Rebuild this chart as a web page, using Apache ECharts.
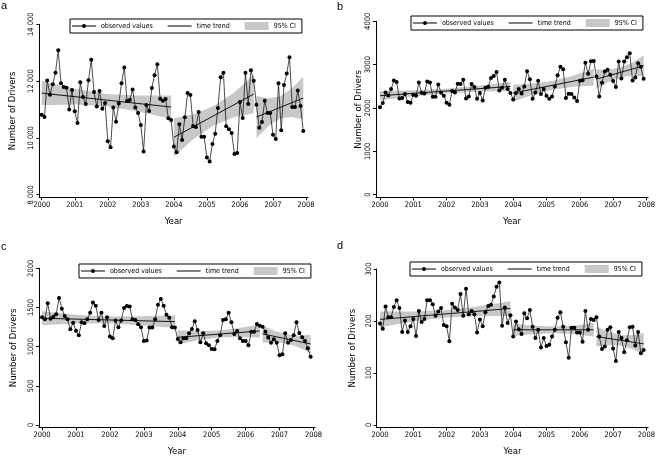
<!DOCTYPE html>
<html><head><meta charset="utf-8">
<script src="https://cdn.jsdelivr.net/npm/echarts@6/dist/echarts.min.js"></script>
<style>html,body{margin:0;padding:0;background:#fff}#c{width:658px;height:460px}</style>
</head><body><div id="c"></div>
<script>
const years = [2000, 2001, 2002, 2003, 2004, 2005, 2006, 2007];
const xTicks = [2000, 2001, 2002, 2003, 2004, 2005, 2006, 2007, 2008];

const obsA = [
  10818, 10736, 12023, 11520, 11894, 12292, 13087, 11929, 11789, 11765, 11005, 11683,
  10935, 10525, 11964, 11437, 11192, 12034, 12748, 11613, 11110, 11648, 11028, 11227,
  9882, 9671, 11075, 10572, 11215, 11929, 12479, 11297, 11332, 11707, 11075, 10876,
  10455, 9519, 11157, 10947, 11754, 12210, 12596, 11379, 11309, 11368, 10689, 10630,
  9694, 9495, 10478, 9928, 10724, 11578, 11508, 10420, 10385, 10911, 10045, 10045,
  9308, 9168, 9788, 10151, 11052, 12140, 12292, 10408, 10303, 10174, 9437, 9472,
  11262, 10701, 12292, 11192, 12386, 12011, 11169, 10361, 10560, 11309, 10876, 10876,
  10116, 9964, 11929, 10268, 11859, 12268, 12842, 11087, 11087, 11672, 11122, 10244
];
const obsB = [
  2015, 2114, 2359, 2290, 2436, 2635, 2597, 2221, 2229, 2321, 2137, 2122,
  2306, 2283, 2589, 2352, 2336, 2612, 2589, 2260, 2260, 2543, 2352, 2283,
  2122, 2076, 2390, 2359, 2558, 2551, 2650, 2221, 2267, 2551, 2482, 2214,
  2344, 2175, 2466, 2490, 2690, 2740, 2830, 2405, 2467, 2650, 2436, 2344,
  2198, 2344, 2436, 2336, 2497, 2850, 2666, 2214, 2359, 2627, 2321, 2436,
  2283, 2214, 2267, 2497, 2758, 2949, 2895, 2229, 2329, 2321, 2244, 2160,
  2627, 2643, 3041, 2788, 3079, 3087, 2727, 2267, 2581, 2842, 2880, 2765,
  2620, 2482, 3072, 2681, 3072, 3171, 3263, 2635, 2704, 3033, 2949, 2673
];
const obsC = [
  1374, 1349, 1553, 1357, 1383, 1413, 1621, 1485, 1391, 1349, 1221, 1306,
  1204, 1145, 1311, 1298, 1349, 1434, 1562, 1523, 1340, 1434, 1264, 1374,
  1128, 1106, 1332, 1247, 1332, 1494, 1519, 1511, 1349, 1340, 1285, 1247,
  1072, 1077, 1243, 1243, 1349, 1536, 1608, 1523, 1408, 1370, 1247, 1243,
  1098, 1055, 1106, 1106, 1170, 1225, 1323, 1213, 1055, 1170, 1042, 1017,
  970, 966, 1072, 1145, 1340, 1349, 1434, 1311, 1162, 1200, 1106, 1072,
  1072, 1017, 1191, 1191, 1289, 1268, 1255, 1191, 1115, 1051, 1094, 1051,
  889, 902, 1170, 1051, 1085, 1145, 1311, 1174, 1119, 1072, 979, 872
];
const obsD = [
  195, 185, 228, 207, 207, 227, 240, 225, 179, 201, 179, 190,
  204, 171, 219, 198, 204, 240, 240, 232, 210, 218, 225, 192,
  190, 161, 233, 226, 221, 252, 210, 262, 213, 219, 213, 178,
  203, 190, 217, 229, 231, 247, 266, 274, 191, 226, 196, 211,
  170, 199, 184, 175, 215, 205, 221, 189, 167, 183, 149, 167,
  152, 154, 170, 183, 206, 217, 189, 159, 129, 187, 187, 178,
  178, 160, 219, 183, 204, 202, 207, 170, 146, 151, 183, 188,
  147, 123, 179, 167, 140, 163, 188, 189, 153, 179, 138, 144
];

// trend segments: start/end x and start/end values
const trendX = [[2000, 2003.917], [2004, 2006.417], [2006.5, 2007.917]];
const trendA = [[11578, 11087], [10022, 11543], [10736, 11403]];
const trendB = [[2283, 2497], [2344, 2712], [2666, 2972]];
const trendC = [[1362, 1319], [1119, 1200], [1162, 1034]];
const trendD = [[203, 224], [183, 183], [170, 156]];

// 95% CI band outline points
const bandX = [
  [2000, 2001, 2001.958, 2002.917, 2003.917],
  [2004, 2004.604, 2005.208, 2005.813, 2006.417],
  [2006.5, 2006.854, 2007.208, 2007.563, 2007.917]
];
const bandLoA = [[11148, 11173, 11118, 10933, 10677], [9350, 9970, 10440, 10730, 10873], [9990, 10408, 10680, 10741, 10653]];
const bandHiA = [[12008, 11733, 11548, 11493, 11497], [10690, 10830, 11120, 11590, 12213], [11480, 11398, 11460, 11731, 12153]];
const bandLoB = [[2178, 2267, 2338, 2373, 2392], [2149, 2308, 2428, 2492, 2517], [2446, 2597, 2704, 2750, 2727]];
const bandHiB = [[2388, 2407, 2442, 2513, 2602], [2539, 2564, 2628, 2748, 2907], [2886, 2887, 2934, 3040, 3217]];
const bandLoC = [[1272, 1294, 1298, 1273, 1239], [1030, 1081, 1115, 1122, 1117], [1050, 1056, 1040, 992, 917]];
const bandHiC = [[1452, 1408, 1384, 1387, 1399], [1208, 1197, 1205, 1238, 1283], [1274, 1204, 1156, 1140, 1151]];
const bandLoD = [[188, 199, 206.5, 209, 210], [171, 175, 176.5, 175, 170], [151, 153.5, 153, 146.5, 135]];
const bandHiD = [[218, 218, 220.5, 228, 238], [195, 191, 189.5, 191, 196], [189, 179.5, 173, 172.5, 177]];

const yTicksA = [8000, 10000, 12000, 14000];
const yTicksB = [0, 1000, 2000, 3000, 4000];
const yTicksC = [0, 500, 1000, 1500, 2000];
const yTicksD = [0, 100, 200, 300];

const FONT = "'Liberation Sans Narrow','DejaVu Sans Condensed','Liberation Sans',sans-serif";
const BAND = '#c8c8c8';

const monthX = [];
years.forEach(y => { for (let m = 0; m < 12; m++) monthX.push(y + m / 12); });

const panels = [
  { letter: 'a', obs: obsA, trend: trendA, lo: bandLoA, hi: bandHiA, yTicks: yTicksA,
    grid: { left: 39.3, right: 350, top: 24.3, bottom: 262.7 }, xMin: 1999.927, xMax: 2008.06,
    yMin: 7910, yMax: 14000, fmt: v => (v / 1000) + ' 000', yGap: 22,
    legend: { left: 70, top: 19 }, title: { left: 1, top: 0 } },
  { letter: 'b', obs: obsB, trend: trendB, lo: bandLoB, hi: bandHiB, yTicks: yTicksB,
    grid: { left: 376, right: 6, top: 21.3, bottom: 262.7 }, xMin: 1999.88, xMax: 2008.05,
    yMin: -60, yMax: 4000, fmt: v => String(v), yGap: 11,
    legend: { left: 411, top: 16 }, title: { left: 337, top: 1 } },
  { letter: 'c', obs: obsC, trend: trendC, lo: bandLoC, hi: bandHiC, yTicks: yTicksC,
    grid: { left: 39, right: 343, top: 268.3, bottom: 32.7 }, xMin: 1999.91, xMax: 2008.045,
    yMin: -30, yMax: 2000, fmt: v => String(v), yGap: 20,
    legend: { left: 79, top: 264 }, title: { left: 1, top: 241 } },
  { letter: 'd', obs: obsD, trend: trendD, lo: bandLoD, hi: bandHiD, yTicks: yTicksD,
    grid: { left: 376.7, right: 9, top: 269, bottom: 32.5 }, xMin: 1999.901, xMax: 2008.051,
    yMin: -5, yMax: 300, fmt: v => String(v), yGap: 19,
    legend: { left: 410, top: 262 }, title: { left: 337, top: 240 } }
];

const iconObs = 'path://M0,0h0.01v0.01h-0.01z M24,8h0.01v0.01h-0.01z M0,3.5h24v1h-24z M10,4a2,2 0 1,1 4,0a2,2 0 1,1 -4,0z';
const iconTrend = 'path://M0,0h0.01v0.01h-0.01z M24,8h0.01v0.01h-0.01z M0,3.5h24v1h-24z';

const grids = [], xAxes = [], yAxes = [], series = [], legends = [], titles = [];
panels.forEach((p, i) => {
  grids.push(p.grid);
  xAxes.push({
    type: 'value', gridIndex: i, min: p.xMin, max: p.xMax,
    axisLine: { show: true, onZero: false, lineStyle: { color: '#000', width: 1 } },
    axisTick: { show: true, length: 3, customValues: xTicks, lineStyle: { color: '#000', width: 1 } },
    axisLabel: { customValues: xTicks, formatter: v => String(v), fontSize: 7.5, margin: 4, color: '#000', fontFamily: FONT },
    splitLine: { show: false },
    name: 'Year', nameLocation: 'middle', nameGap: 19,
    nameTextStyle: { fontSize: 9.5, color: '#000', fontFamily: FONT }
  });
  yAxes.push({
    type: 'value', gridIndex: i, min: p.yMin, max: p.yMax,
    axisLine: { show: true, onZero: false, lineStyle: { color: '#000', width: 1 } },
    axisTick: { show: true, length: 3, customValues: p.yTicks, lineStyle: { color: '#000', width: 1 } },
    axisLabel: { customValues: p.yTicks, formatter: p.fmt, rotate: 90, fontSize: 7.5, margin: 4, color: '#000', fontFamily: FONT },
    splitLine: { show: false },
    name: 'Number of Drivers', nameLocation: 'middle', nameGap: p.yGap,
    nameTextStyle: { fontSize: 9.5, color: '#000', fontFamily: FONT }
  });
  // CI bands
  for (let s = 0; s < 3; s++) {
    const data = bandX[s].map((x, k) => [x, p.lo[s][k], p.hi[s][k]]);
    series.push({
      type: 'custom', name: '95% CI', xAxisIndex: i, yAxisIndex: i, z: 1, silent: true,
      itemStyle: { color: BAND }, encode: { x: 0, y: [1, 2] }, data,
      renderItem: (params, api) => {
        if (params.dataIndex !== 0) return;
        const top = data.map(d => api.coord([d[0], d[2]]));
        const bot = data.map(d => api.coord([d[0], d[1]])).reverse();
        return { type: 'polygon', shape: { points: top.concat(bot) }, style: { fill: BAND } };
      }
    });
  }
  // trend lines
  for (let s = 0; s < 3; s++) {
    series.push({
      type: 'line', name: 'time trend', xAxisIndex: i, yAxisIndex: i, z: 2, silent: true,
      symbol: 'none', color: '#000', lineStyle: { color: '#000', width: 0.9 },
      data: [[trendX[s][0], p.trend[s][0]], [trendX[s][1], p.trend[s][1]]]
    });
  }
  // observed values
  series.push({
    type: 'line', name: 'observed values', xAxisIndex: i, yAxisIndex: i, z: 3, silent: true,
    symbol: 'circle', symbolSize: 4, showAllSymbol: true, color: '#000',
    itemStyle: { color: '#000' }, lineStyle: { color: '#000', width: 0.7 },
    data: monthX.map((x, k) => [x, p.obs[k]])
  });
  legends.push({
    left: p.legend.left, top: p.legend.top, orient: 'horizontal', selectedMode: false,
    padding: [3, 6, 3, 2], itemGap: 15, itemWidth: 24, itemHeight: 8,
    borderColor: '#000', borderWidth: 1, backgroundColor: '#fff',
    textStyle: { fontSize: 7, color: '#000', fontFamily: FONT },
    data: [
      { name: 'observed values', icon: iconObs, itemStyle: { color: '#000', borderWidth: 0, opacity: 1 }, lineStyle: { width: 0 } },
      { name: 'time trend', icon: iconTrend, itemStyle: { color: '#000', borderWidth: 0, opacity: 1 }, lineStyle: { width: 0 } },
      { name: '95% CI', icon: 'rect', itemStyle: { color: BAND, borderWidth: 0 } }
    ]
  });
  titles.push({
    text: p.letter, left: p.title.left, top: p.title.top, padding: 0,
    textStyle: { fontSize: 11, fontWeight: 'normal', color: '#000', fontFamily: "'Liberation Sans',sans-serif" }
  });
});

const chart = echarts.init(document.getElementById('c'), null, { renderer: 'canvas' });
chart.setOption({
  animation: false,
  backgroundColor: '#fff',
  title: titles,
  legend: legends,
  grid: grids,
  xAxis: xAxes,
  yAxis: yAxes,
  series: series
});
</script>
</body></html>
